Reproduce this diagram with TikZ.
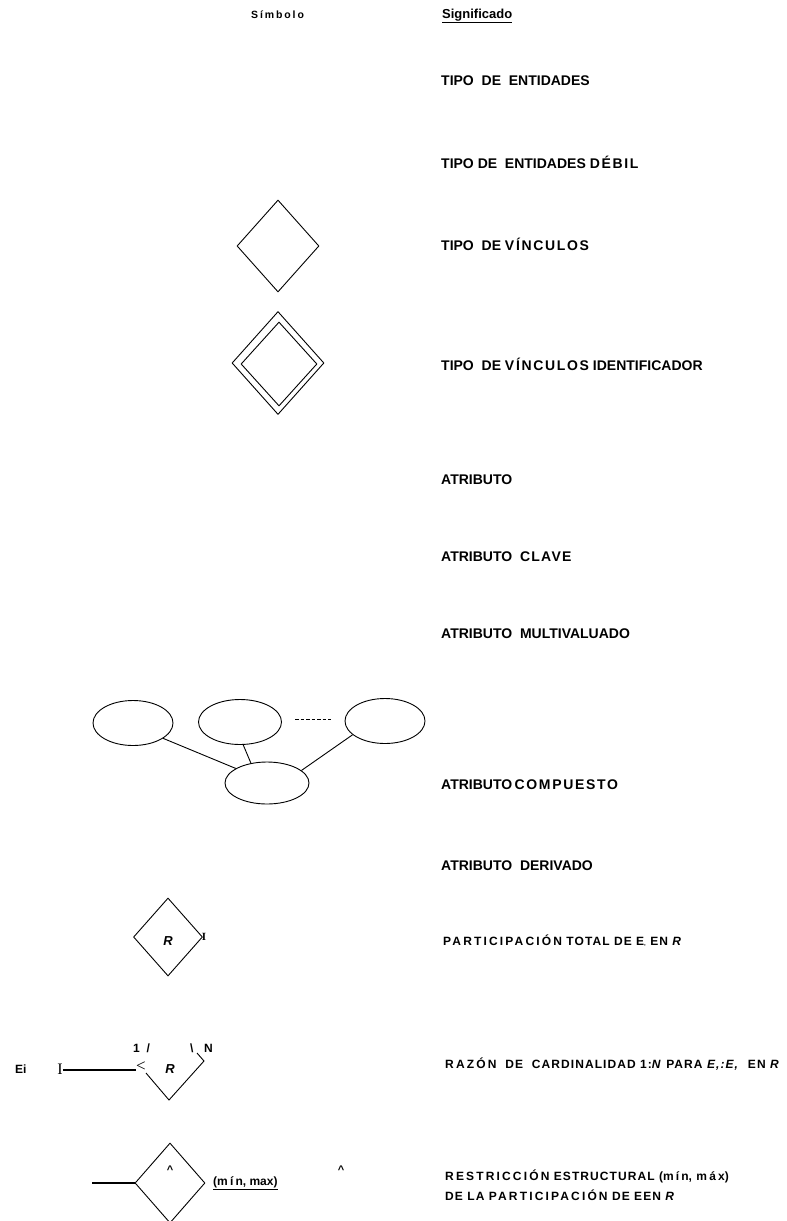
\documentclass[tikz,border=0pt]{standalone}
\usepackage{fontspec}
\setmainfont{Liberation Sans}
\newfontfamily\lsp{Liberation Sans}[LetterSpace=12]
\newfontfamily\lspw{Liberation Sans}[LetterSpace=18]
\newfontfamily\lspm{Liberation Sans}[LetterSpace=9]
\newfontfamily\serifI{Liberation Serif}
\usetikzlibrary{shapes.geometric}
\begin{document}
\begin{tikzpicture}[x=1pt,y=-1pt,
  txt/.style={anchor=base west, inner sep=0pt, font=\bfseries\fontsize{14}{16}\selectfont},
  stxt/.style={anchor=base west, inner sep=0pt, font=\lspm\bfseries\fontsize{12}{14}\selectfont},
  shp/.style={draw, line width=0.9pt},
  dia/.style={shp, diamond, inner sep=0pt},
  ell/.style={shp, ellipse, inner sep=0pt, minimum width=80pt, minimum height=45pt},
  lnk/.style={line width=0.9pt},
  thk/.style={line width=1.4pt}]
\useasboundingbox (0,0) rectangle (787,1221);
\clip (0,0) rectangle (787,1221);

% headers
\node[anchor=base west, inner sep=0pt, font=\lspw\bfseries\fontsize{10.5}{12}\selectfont] (hsym) at (251,18.5) {Símbolo};
\node[anchor=base west, inner sep=0pt, font=\bfseries\fontsize{13}{15}\selectfont] (hsig) at (442,18.5) {\underline{Significado}};

% meanings
\node[txt] (t1) at (441,85.5) {TIPO\ \ DE\ \ ENTIDADES};
\node[txt] (t2) at (441,168.5) {TIPO DE\ \ ENTIDADES {\lsp DÉBIL}};
\node[txt] (t3) at (441,250.5) {TIPO\ \ DE {\lsp VÍNCULOS}};
\node[txt] (t4) at (441,370.5) {TIPO\ \ DE {\lsp VÍNCULOS} IDENTIFICADOR};
\node[txt] (t5) at (441,484.5) {ATRIBUTO};
\node[txt] (t6) at (441,561.5) {ATRIBUTO\ \ {\lspm CLAVE}};
\node[txt] (t7) at (441,638.5) {ATRIBUTO\ \ MULTIVALUADO};
\node[txt] (t8) at (441,789) {ATRIBUTO\,{\lsp COMPUESTO}};
\node[txt] (t9) at (441,870) {ATRIBUTO\ \ DERIVADO};
\node[stxt] (t10) at (443,945.5) {{\lspw PARTICIPACIÓN} TOTAL DE E{\fontsize{6}{6}\selectfont ,} EN \textit{R}};
\node[stxt] (t11) at (445,1068.5) {{\lspw RAZÓN}\ \ DE\ \ CARDINALIDAD 1:\textit{N} PARA \textit{E,:E,}\ \ EN \textit{R}};
\node[stxt] (t12) at (445,1180) {{\lspw RESTRICCIÓN} ESTRUCTURAL ({\lspw mín}, {\lspw máx})};
\node[stxt] (t13) at (445,1200.5) {DE LA {\lspw PARTICIPACIÓN} DE EEN \textit{R}};

% relationship types
\node[dia, minimum width=82pt, minimum height=92pt] (d1) at (278,246) {};
\node[dia, minimum width=92pt, minimum height=103pt] (d2o) at (278,363) {};
\node[dia, minimum width=76pt, minimum height=84pt] (d2i) at (279,364) {};

% composite attribute
\node[ell] (e1) at (133,723) {};
\node[ell, minimum width=83pt] (e2) at (240,722) {};
\node[ell] (e3) at (385,721) {};
\node[ell, minimum width=84pt, minimum height=42pt] (eb) at (267,783) {};
\draw[lnk] (e1.-27) -- (eb.155);
\draw[lnk] (e2.-82) -- (eb.129);
\draw[lnk] (e3.-157) -- (eb.20);
\coordinate (dsA) at (295,719);
\coordinate (dsB) at (331,719);
\draw[line width=0.6pt, dash pattern=on 3.5pt off 2pt] (dsA) -- (dsB);

% total participation
\node[dia, minimum width=69pt, minimum height=78pt] (dR) at (168,937) {};
\node[inner sep=0pt, font=\bfseries\itshape\fontsize{13}{15}\selectfont] (dRt) at (168,941) {R};
\node[inner sep=0pt, font=\serifI\bfseries\fontsize{11}{11}\selectfont] (mk) at (204,937) {I};

% cardinality ratio
\node[anchor=base west, inner sep=0pt, font=\bfseries\fontsize{12}{14}\selectfont] (ei) at (15,1073) {Ei};
\node[inner sep=0pt, font=\serifI\fontsize{16}{16}\selectfont] (bar) at (60,1069) {I};
\node[inner sep=0pt, font=\serifI\fontsize{17}{17}\selectfont] (lt) at (141,1067) {<};
\draw[thk] (bar.east |- 0,1070) -- (lt.west |- 0,1070);
\coordinate (cL) at (146,1073);
\coordinate (cB) at (169,1100);
\coordinate (cR) at (204,1061);
\coordinate (cT) at (197,1053);
\draw[shp] (cL) -- (cB) -- (cR) -- (cT);
\node[anchor=base west, inner sep=0pt, font=\bfseries\fontsize{12}{14}\selectfont] (one) at (133,1052) {1\ \ /};
\node[anchor=base west, inner sep=0pt, font=\bfseries\fontsize{12}{14}\selectfont] (bs) at (190,1052) {\textbackslash};
\node[anchor=base west, inner sep=0pt, font=\bfseries\fontsize{12}{14}\selectfont] (nn) at (204,1052) {N};
\node[inner sep=0pt, font=\bfseries\itshape\fontsize{13}{15}\selectfont] (cRt) at (170,1069) {R};

% structural constraint
\node[dia, minimum width=70pt, minimum height=80pt] (dS) at (170,1183) {};
\coordinate (sL) at (92,1183);
\draw[thk] (sL) -- (dS.west);
\node[inner sep=0pt, font=\bfseries\fontsize{11}{12}\selectfont] (c1) at (170,1170) {\textasciicircum};
\node[anchor=base west, inner sep=0pt, font=\bfseries\fontsize{12}{14}\selectfont] (mm) at (213,1185) {\underline{({\lspw mín}, max)}};
\node[inner sep=0pt, font=\bfseries\fontsize{11}{12}\selectfont] (c2) at (341,1170) {\textasciicircum};
\end{tikzpicture}
\end{document}
